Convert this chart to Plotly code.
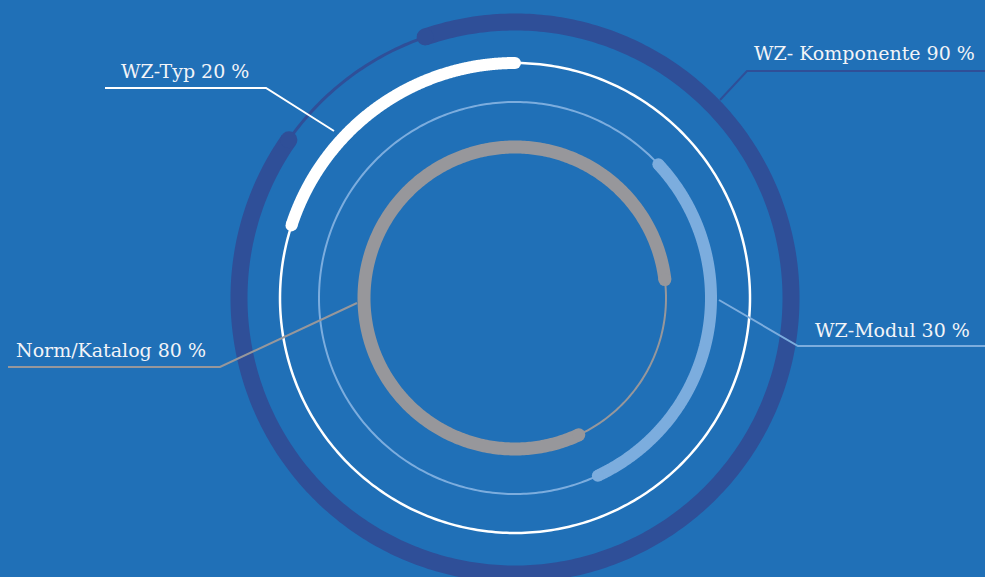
import numpy as np
import plotly.graph_objects as go

# Share of each category (percent)
labels = ["WZ- Komponente", "WZ-Typ", "WZ-Modul", "Norm/Katalog"]
values = [90, 20, 30, 80]

# Ring styling, outermost first
colors = ["#2f4f98", "#ffffff", "#7cadde", "#97979b"]
radii = [276, 235, 196, 151]
thick_w = [17, 12, 12, 13]
thin_w = [3, 2.5, 2, 2]
start_deg = [109, 162, 43, -65]   # where the filled arc begins; it sweeps clockwise

W, H = 985, 577
CX, CY = 515, 298
BG = "#2070b7"

fig = go.Figure()


def arc(r, a0, a1, n=400):
    t = np.radians(np.linspace(a0, a1, n))
    return CX + r * np.cos(t), CY - r * np.sin(t)


for lab, v, c, r, tw, lw, s in zip(labels, values, colors, radii, thick_w, thin_w, start_deg):
    # thin full circle
    x, y = arc(r, 0, 360)
    fig.add_trace(go.Scatter(x=x, y=y, mode="lines",
                             line=dict(color=c, width=lw, simplify=False),
                             hoverinfo="skip", showlegend=False))
    # filled arc for the value
    x, y = arc(r, s, s - v * 3.6)
    fig.add_trace(go.Scatter(x=x, y=y, mode="lines",
                             line=dict(color=c, width=tw, simplify=False),
                             hoverinfo="skip", showlegend=False, name=lab))
    # rounded ends
    fig.add_trace(go.Scatter(x=[x[0], x[-1]], y=[y[0], y[-1]], mode="markers",
                             marker=dict(color=c, size=tw, line=dict(width=0)),
                             hoverinfo="skip", showlegend=False))

# leader lines and labels
leaders = [
    # (label index, polyline points, text x, text y)
    (0, [(720, 100), (747, 71), (985, 71)], 752, 53),
    (1, [(334, 131), (266, 88), (105, 88)], 119, 71),
    (2, [(719, 300), (798, 346), (985, 346)], 813, 330),
    (3, [(357, 303), (220, 367), (8, 367)], 14, 350),
]
for i, pts, tx, ty in leaders:
    px, py = zip(*pts)
    fig.add_trace(go.Scatter(x=px, y=py, mode="lines", line=dict(color=colors[i], width=2),
                             hoverinfo="skip", showlegend=False))
    fig.add_annotation(x=tx, y=ty, text=f"{labels[i]} {values[i]} %", showarrow=False,
                       xanchor="left", yanchor="middle", xref="x", yref="y",
                       font=dict(family="DejaVu Serif", size=19, color="#f2f4f8"))

fig.update_layout(
    width=W, height=H, margin=dict(l=0, r=0, t=0, b=0),
    paper_bgcolor=BG, plot_bgcolor=BG,
    xaxis=dict(range=[0, W], visible=False, fixedrange=True),
    yaxis=dict(range=[H, 0], visible=False, fixedrange=True),
)

fig.write_html("out.html")
